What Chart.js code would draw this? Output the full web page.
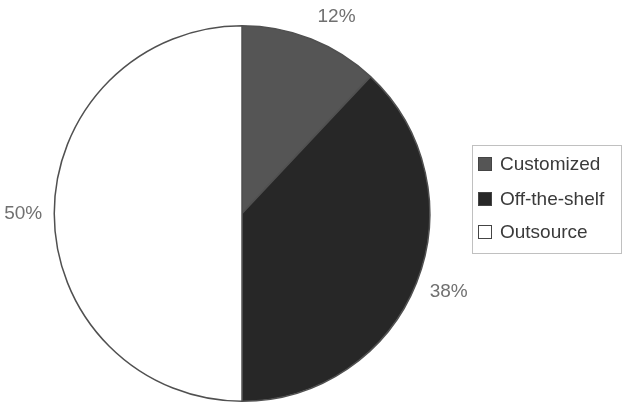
<!DOCTYPE html>
<html>
<head>
<meta charset="utf-8">
<script src="https://cdn.jsdelivr.net/npm/chart.js@4"></script>
<style>
  html, body { margin: 0; padding: 0; background: #fff; }
  #wrap { width: 624px; height: 403px; }
</style>
</head>
<body>
<div id="wrap"><canvas id="pieChart" width="624" height="403"></canvas></div>
<script>
const categories = ["Customized", "Off-the-shelf", "Outsource"];
const shares = [12, 38, 50];
const sliceColors = ["#555555", "#272727", "#ffffff"];

// percentage labels outside the pie, anchored at the rim like Excel does
const outsideLabels = {
  id: "outsideLabels",
  afterDatasetsDraw(chart) {
    const ctx = chart.ctx;
    const meta = chart.getDatasetMeta(0);
    ctx.save();
    ctx.font = "19px 'Liberation Sans', Arial, sans-serif";
    ctx.fillStyle = "#707070";
    ctx.textBaseline = "middle";
    meta.data.forEach((arc, i) => {
      const mid = (arc.startAngle + arc.endAngle) / 2;
      const r = arc.outerRadius + 12;
      const cx = Math.cos(mid), sy = Math.sin(mid);
      const x = arc.x + cx * r;
      const y = arc.y + sy * r + sy * 12;
      ctx.textAlign = cx > 0.05 ? "left" : (cx < -0.05 ? "right" : "center");
      ctx.fillText(shares[i] + "%", x + (cx > 0.05 ? 2 : 0), y);
    });
    ctx.restore();
  }
};

// boxed legend on the right
const boxLegend = {
  id: "boxLegend",
  afterDraw(chart) {
    const ctx = chart.ctx;
    const ds = chart.data.datasets[0];
    ctx.save();
    ctx.strokeStyle = "#c0c0c0";
    ctx.lineWidth = 1;
    ctx.strokeRect(472.5, 145.5, 149, 108);
    ctx.font = "19px 'Liberation Sans', Arial, sans-serif";
    ctx.textBaseline = "middle";
    const rows = [164, 199, 232];
    chart.data.labels.forEach((lab, i) => {
      const y = rows[i];
      ctx.fillStyle = ds.backgroundColor[i];
      ctx.fillRect(478, y - 7, 14, 14);
      ctx.strokeStyle = "#444";
      ctx.strokeRect(478.5, y - 6.5, 13, 13);
      ctx.fillStyle = "#3a3a3a";
      ctx.fillText(lab, 500, y + 1);
    });
    ctx.restore();
  }
};

new Chart(document.getElementById("pieChart"), {
  type: "pie",
  data: {
    labels: categories,
    datasets: [{
      data: shares,
      backgroundColor: sliceColors,
      borderColor: "#505050",
      borderWidth: 1.5
    }]
  },
  options: {
    responsive: false,
    animation: false,
    layout: { padding: { left: 53, right: 193, top: 25, bottom: 1 } },
    plugins: {
      legend: { display: false },
      tooltip: { enabled: false }
    }
  },
  plugins: [outsideLabels, boxLegend]
});
</script>
</body>
</html>
